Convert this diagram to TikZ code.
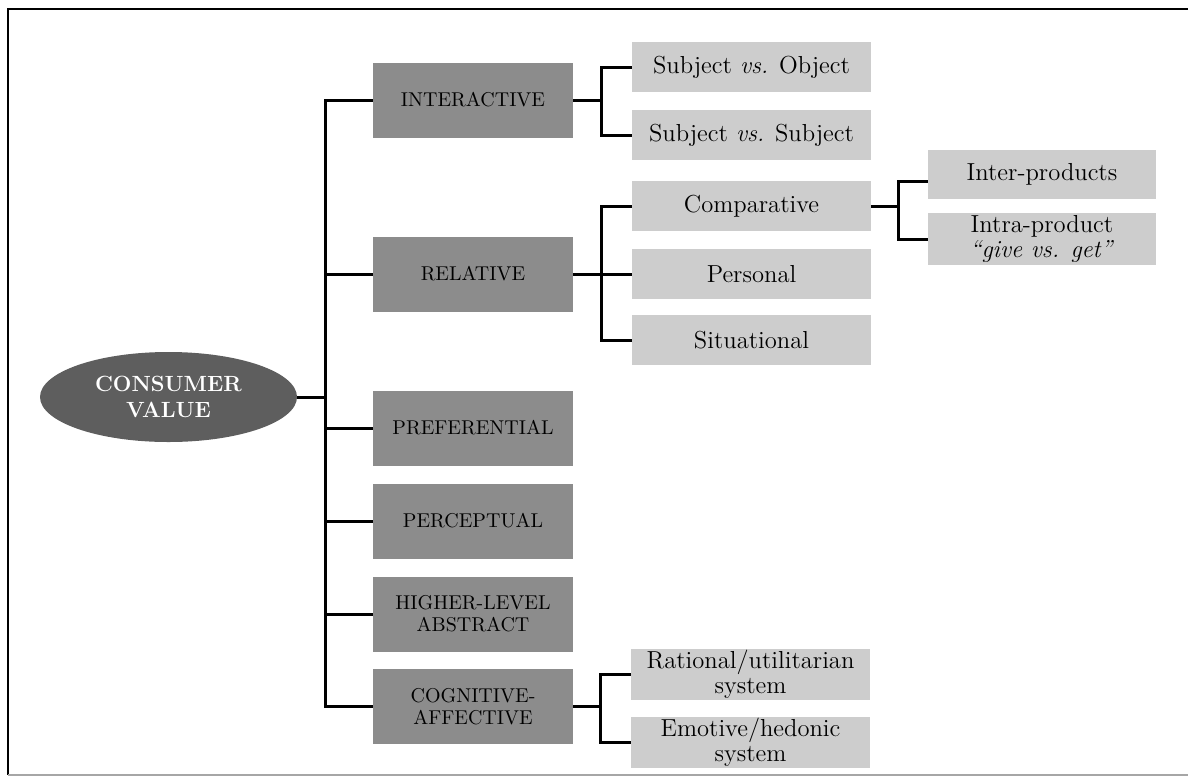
\documentclass[tikz,border=0pt]{standalone}
\usetikzlibrary{shapes.geometric}
\usetikzlibrary{positioning}
\definecolor{ovaldark}{HTML}{5E5E5E}
\definecolor{boxdark}{HTML}{8C8C8C}
\definecolor{boxlight}{HTML}{CDCDCD}

\begin{document}
\begin{tikzpicture}[x=0.5pt, y=-0.5pt,
    mainbox/.style={fill=boxdark, minimum width=100pt, minimum height=37.5pt,
        inner sep=1pt, align=center, font=\fontsize{10}{11}\selectfont},
    subbox/.style={fill=boxlight, minimum width=119.5pt, minimum height=25pt,
        inner sep=0pt, align=center, font=\fontsize{12.3}{12.5}\selectfont},
    valueoval/.style={ellipse, fill=ovaldark, minimum width=128.5pt,
        minimum height=45pt, inner sep=0pt, align=center, text=white,
        font=\fontsize{11}{13}\selectfont\bfseries},
    link/.style={line width=1.5pt}]

    \useasboundingbox (0,0) rectangle (1188,777);

    % frame
    \draw[line width=1pt] (1188,9) -- (8,9) -- (8,775);
    \draw[black!35, line width=0.6pt] (8,775) -- (1188,775);

    \node[valueoval] (cv) at (168.5,397) {CONSUMER\\VALUE};

    \node[mainbox] (inter) at (473,100)   {INTERACTIVE};
    \node[mainbox] (rel)   at (473,274)   {RELATIVE};
    \node[mainbox] (pref)  at (473,428)   {PREFERENTIAL};
    \node[mainbox] (perc)  at (473,521)   {PERCEPTUAL};
    \node[mainbox] (high)  at (473,614)   {HIGHER-LEVEL\\ABSTRACT};
    \node[mainbox] (cog)   at (473,706.5) {COGNITIVE-\\AFFECTIVE};

    \node[subbox] (svo)  at (751.5,67)  {Subject \textit{vs.} Object};
    \node[subbox] (svs)  at (751.5,135) {Subject \textit{vs.} Subject};
    \node[subbox] (comp) at (751.5,206) {Comparative};
    \node[subbox] (pers) at (751.5,274) {Personal};
    \node[subbox] (sit)  at (751.5,340) {Situational};

    \node[subbox, minimum width=114pt, minimum height=24.5pt] (ip)
        at (1042,174.5) {Inter-products};
    \node[subbox, minimum width=114pt, minimum height=26pt] (intra)
        at (1042,239) {Intra-product\\\textit{``give vs. get''}};

    \node[subbox, minimum height=25.5pt] (rat) at (750.5,674.5)
        {Rational/utilitarian\\system};
    \node[subbox, minimum height=25.5pt] (emo) at (750.5,742)
        {Emotive/hedonic\\system};

    \coordinate (tr) at (325,0);
    \coordinate (b1) at (601,0);
    \coordinate (b2) at (898,0);
    \coordinate (b3) at (600,0);

    % trunk
    \draw[link] (inter.west) -- (inter.west -| tr) -- (cog.west -| tr) -- (cog.west);
    \draw[link] (cv.east) -- (cv.east -| tr);
    \foreach \n in {rel,pref,perc,high}
        \draw[link] (\n.west) -- (\n.west -| tr);

    % brackets
    \draw[link] (inter.east) -- (inter.east -| b1);
    \draw[link] (svo.west) -- (svo.west -| b1) -- (svs.west -| b1) -- (svs.west);

    \draw[link] (rel.east) -- (pers.west);
    \draw[link] (comp.west) -- (comp.west -| b1) -- (sit.west -| b1) -- (sit.west);

    \draw[link] (comp.east) -- (comp.east -| b2);
    \draw[link] ([yshift=-3.5pt]ip.west) -- ([yshift=-3.5pt]ip.west -| b2)
        -- (intra.west -| b2) -- (intra.west);

    \draw[link] (cog.east) -- (cog.east -| b3);
    \draw[link] (rat.west) -- (rat.west -| b3) -- (emo.west -| b3) -- (emo.west);

\end{tikzpicture}
\end{document}
